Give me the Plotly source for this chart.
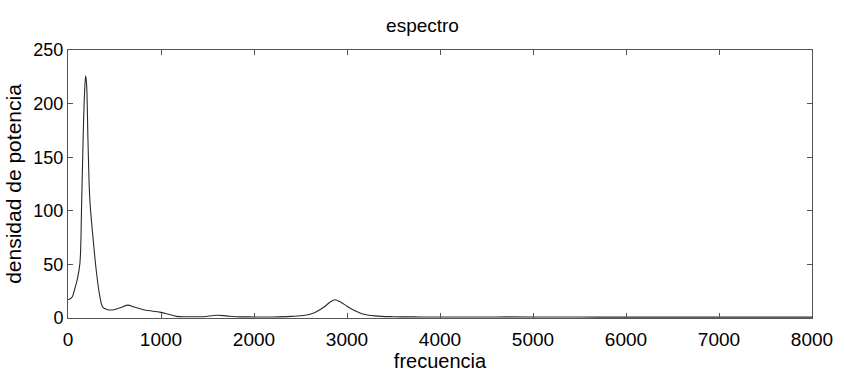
import plotly.graph_objects as go

freq = [0, 40, 75, 100, 128, 146, 164, 178, 190, 200, 215, 235, 271, 307, 343, 375,
        420, 480, 560, 640, 720, 800, 900, 985, 1080, 1165, 1300, 1450, 1600, 1700,
        1800, 2000, 2200, 2400, 2550, 2650, 2750, 2820, 2870, 2930, 3000, 3080, 3160,
        3300, 3500, 3800, 4200, 4600, 5000, 5500, 6000, 6500, 7000, 7500, 8000]
power = [17, 19, 28, 36, 51, 104, 172, 210, 226, 218, 165, 110, 73, 42, 20, 10,
         8, 7.5, 9.5, 12, 10, 8, 6.5, 5.5, 3.5, 1.5, 1.2, 1.2, 2.5, 2,
         1.2, 1, 1, 1.5, 2.5, 5, 10, 15, 17, 15, 11, 7, 4,
         2, 1.2, 1, 0.9, 1, 1, 0.9, 0.8, 0.8, 0.8, 0.8, 0.8]

x_ticks = [0, 1000, 2000, 3000, 4000, 5000, 6000, 7000, 8000]
y_ticks = [0, 50, 100, 150, 200, 250]

title_text = "espectro"
x_title = "frecuencia"
y_title = "densidad de potencia"

font_family = "Liberation Sans, Arial, sans-serif"

fig = go.Figure()
fig.add_trace(go.Scatter(x=freq, y=power, mode="lines",
                         line=dict(color="#2a2a2a", width=1.1), line_shape="spline",
                         showlegend=False))

axis_common = dict(showgrid=False, zeroline=False, showline=True, linecolor="#555",
                   linewidth=1, mirror="ticks", ticks="inside", ticklen=5,
                   tickcolor="#555", tickfont=dict(family=font_family, size=19, color="#000"))

fig.update_layout(
    width=845, height=389,
    margin=dict(l=68, r=30, t=50, b=71),
    paper_bgcolor="white", plot_bgcolor="white",
    title=dict(text=title_text, x=0.5, xref="container", xanchor="center",
               y=1 - 25 / 389, yref="container", yanchor="middle",
               font=dict(family=font_family, size=19, color="#000")),
    xaxis=dict(range=[0, 8000], tickvals=x_ticks, ticklabelstandoff=4, **axis_common,
               title=dict(text=x_title, standoff=4,
                          font=dict(family=font_family, size=20, color="#000"))),
    yaxis=dict(range=[0, 250], tickvals=y_ticks, **axis_common,
               title=dict(text=y_title, standoff=6,
                          font=dict(family=font_family, size=21, color="#000"))),
)
fig.update_yaxes(tickfont=dict(size=18))

fig.write_html("out.html")
